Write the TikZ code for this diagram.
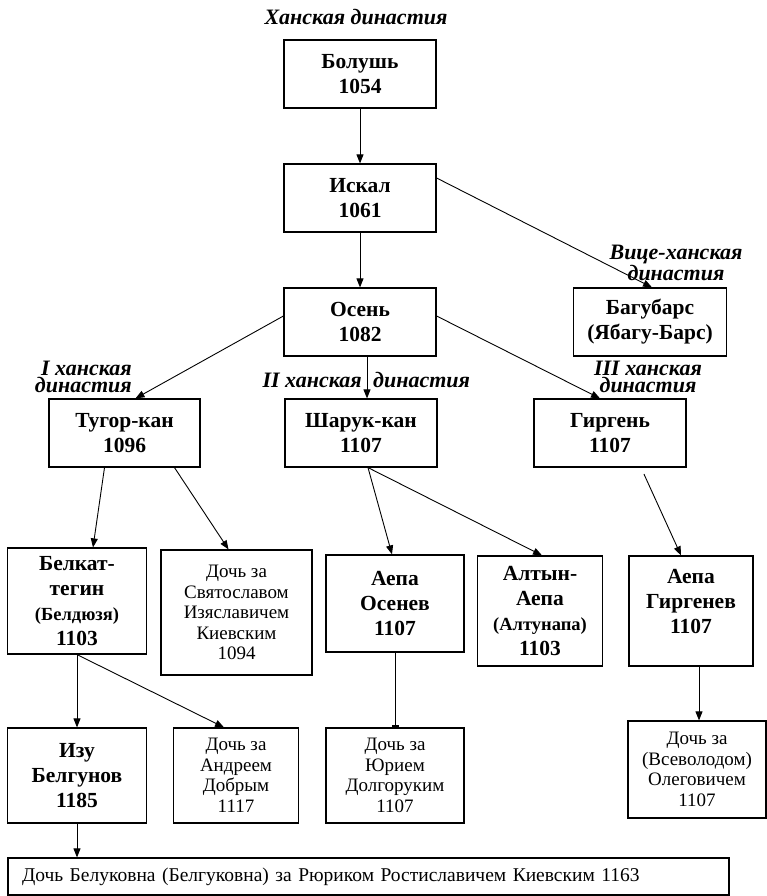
\documentclass[tikz,border=0pt]{standalone}
\usepackage{fontspec}
\setmainfont{Liberation Serif}
\usetikzlibrary{arrows.meta}
\tikzset{
  khan/.style = {rectangle, draw, line width=1.2pt, align=center, inner sep=2pt, font=\fontsize{21.5}{25}\selectfont\bfseries},
  doch/.style = {rectangle, draw, line width=1.2pt, align=center, inner sep=2pt, font=\fontsize{19}{20.5}\selectfont},
  dyn/.style  = {align=center, inner sep=0, font=\fontsize{22}{17.5}\selectfont\bfseries\itshape},
  link/.style = {line width=0.9pt, -{Triangle[length=9pt,width=7pt]}},
  tee/.style  = {line width=0.9pt, -{Bar[width=7pt,line width=2pt]}}
}
\newcommand{\smb}[1]{{\fontsize{18.5}{20}\selectfont #1}}

\begin{document}
\begin{tikzpicture}[x=1pt,y=-1pt]
  \useasboundingbox (0,0) rectangle (767,896);
  % dynasty labels
  \node[dyn] (lkhan) at (356,17) {Ханская династия};
  \node[dyn] (lvice) at (676,263) {Вице-ханская\\династия};
  \node[dyn,anchor=east,align=right] (lfirst) at (132,377) {I ханская\\династия};
  \node[dyn,anchor=east] (lsecA) at (362,380) {II ханская};
  \node[dyn,anchor=west] (lsecB) at (373,380) {династия};
  \node[dyn] (lthird) at (648,377) {III ханская\\династия};
  % khans
  \node[khan, minimum width=152pt, minimum height=68pt] (bolush) at (360,74) {Болушь\\1054};
  \node[khan, minimum width=152pt, minimum height=68pt] (iskal) at (360,198) {Искал\\1061};
  \node[khan, minimum width=152pt, minimum height=68pt] (osen) at (360,322) {Осень\\1082};
  \node[khan, minimum width=153pt, minimum height=68pt] (bagubars) at (650,322) {Багубарс\\(Ябагу-Барс)};
  \node[khan, minimum width=151pt, minimum height=68pt] (tugor) at (124.5,433) {Тугор-кан\\1096};
  \node[khan, minimum width=152pt, minimum height=68pt] (sharuk) at (361,433) {Шарук-кан\\1107};
  \node[khan, minimum width=152pt, minimum height=68pt] (girgen) at (610,433) {Гиргень\\1107};
  \node[khan, minimum width=139pt, minimum height=106pt] (belkat) at (77,601) {Белкат-\\тегин\\\smb{(Белдюзя)}\\1103};
  \node[doch, minimum width=151pt, minimum height=125pt] (dochSv) at (236.5,612.5) {Дочь за\\Святославом\\Изяславичем\\Киевским\\1094};
  \node[khan, minimum width=138pt, minimum height=97pt] (aepaOs) at (395,603.5) {Аепа\\Осенев\\1107};
  \node[khan, minimum width=125pt, minimum height=110pt] (altyn) at (540,611) {Алтын-\\Аепа\\\smb{(Алтунапа)}\\1103};
  \node[khan, minimum width=124pt, minimum height=110pt, text depth=20pt] (aepaGi) at (691,611) {Аепа\\Гиргенев\\1107};
  \node[khan, minimum width=139pt, minimum height=95pt] (izu) at (77,775.5) {Изу\\Белгунов\\1185};
  \node[doch, minimum width=125pt, minimum height=95pt] (dochAn) at (236,775.5) {Дочь за\\Андреем\\Добрым\\1117};
  \node[doch, minimum width=138pt, minimum height=95pt] (dochYu) at (395,775.5) {Дочь за\\Юрием\\Долгоруким\\1107};
  \node[doch, minimum width=138pt, minimum height=97pt] (dochVs) at (697,769.5) {Дочь за\\(Всеволодом)\\Олеговичем\\1107};
  \node[doch, font=\fontsize{19.5}{21}\selectfont, minimum width=721pt, minimum height=37pt, text width=693pt, inner xsep=14pt, align=left] (dochRu) at (368.5,876.5) {Дочь Белуковна (Белгуковна) за Рюриком Ростиславичем Киевским 1163};
  % connectors
  \draw[link] (bolush) -- (iskal);
  \draw[link] ([yshift=20pt]iskal.east) -- ([xshift=2pt]bagubars.north);
  \draw[link] (iskal) -- (osen);
  \draw[link] ([yshift=6pt]osen.west) -- ([xshift=11pt]tugor.north);
  \draw[link] ([xshift=7pt]osen.south) -- ([xshift=6pt]sharuk.north);
  \draw[link] ([yshift=6pt]osen.east) -- ([xshift=-10pt]girgen.north);
  \draw[link] ([xshift=-20pt]tugor.south) -- ([xshift=16pt]belkat.north);
  \draw[link] ([xshift=50pt]tugor.south) -- ([xshift=-8pt]dochSv.north);
  \draw[link] ([xshift=7pt]sharuk.south) -- ([xshift=-3pt]aepaOs.north);
  \draw[link] ([xshift=7pt]sharuk.south) -- ([xshift=2pt]altyn.north);
  \draw[link, shorten <=7pt] ([xshift=31pt]girgen.south) -- ([xshift=-10pt]aepaGi.north);
  \draw[link] ([xshift=8pt]aepaGi.south) -- ([xshift=2pt]dochVs.north);
  \draw[tee] (aepaOs) -- (dochYu);
  \draw[link] (belkat) -- (izu);
  \draw[link] (belkat.south) -- ([xshift=-12pt]dochAn.north);
  \draw[link] (izu.south) -- (izu.south |- dochRu.north);
\end{tikzpicture}
\end{document}
